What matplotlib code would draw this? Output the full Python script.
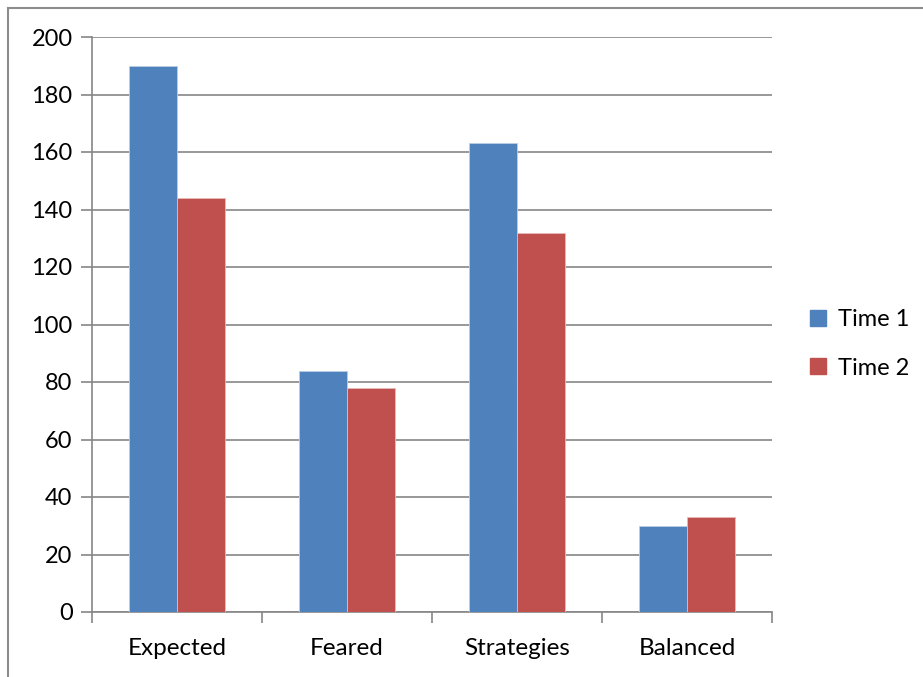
import numpy as np
import matplotlib
matplotlib.use("Agg")
import matplotlib.pyplot as plt
from matplotlib.lines import Line2D

categories = ["Expected", "Feared", "Strategies", "Balanced"]
time1 = [190, 84, 163, 30]
time2 = [144, 78, 132, 33]
series_names = ["Time 1", "Time 2"]

BLUE = "#4f81bd"
RED = "#c0504d"
GRID = "#868686"

plt.rcParams["font.family"] = ["Lato", "DejaVu Sans"]

W, H = 923, 677
fig = plt.figure(figsize=(W / 100, H / 100), dpi=100)
ax = fig.add_axes([92 / W, 1 - 612 / H, (772 - 92) / W, (612 - 37) / H])

x = np.arange(len(categories))
bw = 48 / 170
ax.bar(x - bw / 2, time1, bw, color=BLUE, edgecolor="#b9cde5", linewidth=0.6,
       label=series_names[0], zorder=3)
ax.bar(x + bw / 2, time2, bw, color=RED, edgecolor="#e6b9b8", linewidth=0.6,
       label=series_names[1], zorder=3)

ax.set_xlim(-0.5, len(categories) - 0.5)
ax.set_ylim(0, 200)
ax.set_yticks(np.arange(0, 201, 20))
ax.grid(axis="y", color=GRID, linewidth=1.2, zorder=0)

for s in ["top", "right"]:
    ax.spines[s].set_visible(False)
for s in ["left", "bottom"]:
    ax.spines[s].set_color(GRID)
    ax.spines[s].set_linewidth(1.2)

# category ticks sit on the boundaries between groups
ax.set_xticks(np.arange(-0.5, len(categories)), minor=False)
ax.set_xticklabels([])
ax.set_xticks(x, minor=True)
ax.set_xticklabels(categories, minor=True, fontsize=17.5)
ax.tick_params(axis="x", which="major", length=8, width=1.2, color=GRID)
ax.tick_params(axis="x", which="minor", length=0, pad=19)
ax.tick_params(axis="y", length=8, width=1.2, color=GRID, labelsize=17, pad=6)

handles = [Line2D([], [], marker="s", linestyle="none", markersize=11,
                  markerfacecolor=c, markeredgecolor=c) for c in (BLUE, RED)]
fig.legend(handles, series_names, loc="center left",
           bbox_to_anchor=(806 / W, 1 - 344 / H), frameon=False, fontsize=17,
           handlelength=1.0, handletextpad=0.35, labelspacing=1.15,
           borderaxespad=0, borderpad=0)

# outer frame (only top and left edges show)
fig.add_artist(Line2D([8 / W, 1], [1 - 8 / H, 1 - 8 / H], color="#8c8c8c", lw=1.5))
fig.add_artist(Line2D([8 / W, 8 / W], [0, 1 - 8 / H], color="#8c8c8c", lw=1.5))

fig.savefig("out.png", dpi=100)
